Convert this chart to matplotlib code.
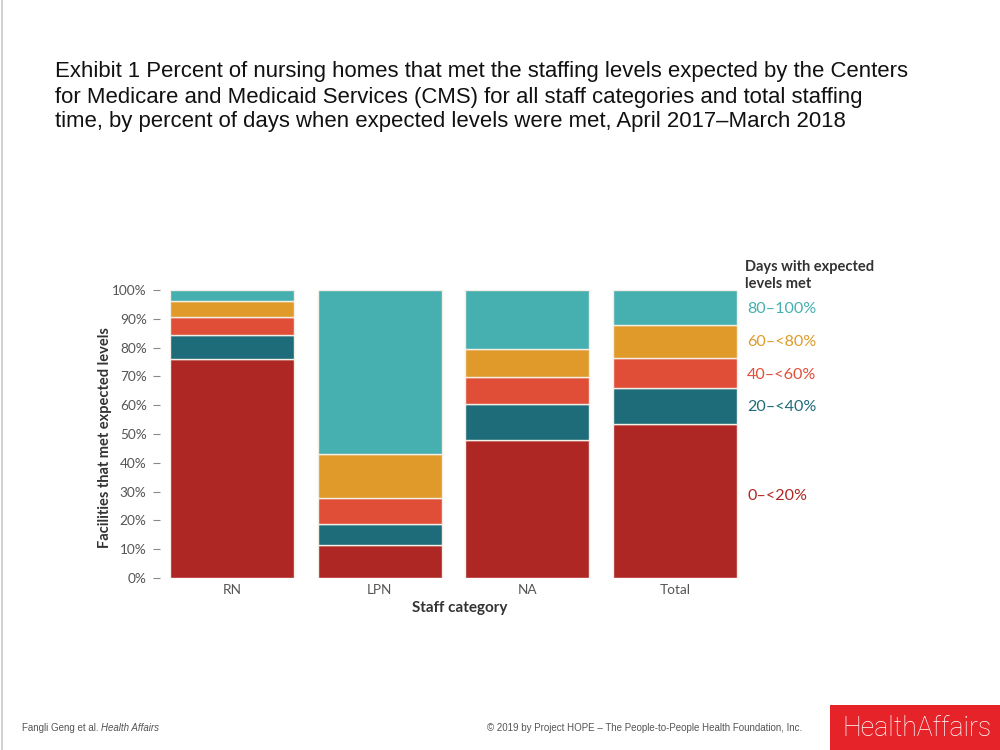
import matplotlib
matplotlib.use("Agg")
import matplotlib.pyplot as plt
from matplotlib.patches import Rectangle
import numpy as np

categories = ["RN", "LPN", "NA", "Total"]
series_labels = ["0–<20%", "20–<40%", "40–<60%", "60–<80%", "80–100%"]
v_0_20 = [75.9, 11.4, 47.9, 53.6]
v_20_40 = [8.5, 7.4, 12.6, 12.3]
v_40_60 = [6.3, 8.9, 9.2, 10.4]
v_60_80 = [5.5, 15.2, 9.8, 11.6]
v_80_100 = [3.8, 57.1, 20.5, 12.1]
yticks = [0, 10, 20, 30, 40, 50, 60, 70, 80, 90, 100]
ytick_labels = ["0%", "10%", "20%", "30%", "40%", "50%", "60%", "70%", "80%", "90%", "100%"]

colors = ["#AE2724", "#1E6C79", "#E14E38", "#E09A2A", "#46AFAF"]
series = [v_0_20, v_20_40, v_40_60, v_60_80, v_80_100]

W, H = 1000, 750
fig = plt.figure(figsize=(10, 7.5), dpi=100)
fig.patch.set_facecolor("white")

def fx(px):
    return px / W

def fy(py):
    return 1 - py / H

chart_font = ["Lato", "DejaVu Sans"]
title_font = ["Liberation Sans", "DejaVu Sans"]

# axes: bars RN 170-294, spacing 147.7 px, 0% at y=578, 100% at y=290
spacing = 147.7
c0 = 232
xl, xr = -0.42, 3.5
left_px = c0 + xl * spacing
right_px = c0 + xr * spacing
ax = fig.add_axes([fx(left_px), fy(578), (right_px - left_px) / W, (578 - 290) / H])
ax.set_xlim(xl, xr)
ax.set_ylim(0, 100)

x = np.arange(len(categories))
bottom = np.zeros(len(categories))
for vals, col, lab in zip(series, colors, series_labels):
    ax.bar(x, vals, width=0.84, bottom=bottom, color=col, edgecolor="#f4efe6",
           linewidth=1.0, label=lab)
    bottom += np.array(vals)

for s in ["top", "right", "bottom"]:
    ax.spines[s].set_visible(False)
ax.spines["left"].set_position(("outward", 7.5))
ax.spines["left"].set_color("none")

ax.set_yticks(yticks)
ax.set_yticklabels(ytick_labels, fontfamily=chart_font, fontsize=9.8, color="#555555")
ax.tick_params(axis="y", direction="out", length=5, width=0.8, color="#888888", pad=4.3)
ax.set_xticks(x)
ax.set_xticklabels(categories, fontfamily=chart_font, fontsize=9.8, color="#555555")
ax.tick_params(axis="x", length=0, pad=4)

ax.set_xlabel("Staff category", fontfamily=chart_font, fontsize=11, fontweight="bold",
              color="#333333", labelpad=4)
fig.text(fx(105), fy(438), "Facilities that met expected levels", rotation=90,
         ha="center", va="center", fontfamily=chart_font, fontsize=10.5,
         fontweight="bold", color="#333333")

# legend text
fig.text(fx(745), fy(267), "Days with expected", ha="left", va="center",
         fontfamily=chart_font, fontsize=10.5, fontweight="bold", color="#333333")
fig.text(fx(745), fy(284), "levels met", ha="left", va="center",
         fontfamily=chart_font, fontsize=10.5, fontweight="bold", color="#333333")
legend_y = {"80–100%": 309, "60–<80%": 342, "40–<60%": 375, "20–<40%": 407, "0–<20%": 496}
for lab, col in zip(series_labels, colors):
    fig.text(fx(747), fy(legend_y[lab]), lab, ha="left", va="center",
             fontfamily=chart_font, fontsize=11.6, color=col)

# title
title_lines = [
    "Exhibit 1 Percent of nursing homes that met the staffing levels expected by the Centers",
    "for Medicare and Medicaid Services (CMS) for all staff categories and total staffing",
    "time, by percent of days when expected levels were met, April 2017\u2013March 2018",
]
for line, py in zip(title_lines, [72, 97, 121]):
    fig.text(fx(55), fy(py), line, ha="left", va="center", fontfamily=title_font,
             fontsize=15.9, color="#111111")

# footer
t1 = fig.text(fx(22), fy(728), "Fangli Geng et al. ", ha="left", va="center",
              fontfamily=title_font, fontsize=7.0, color="#555555")
fig.canvas.draw()
bb = t1.get_window_extent()
fig.text(bb.x1 / W, fy(728), "Health Affairs", ha="left", va="center",
         fontfamily=title_font, fontsize=7.0, style="italic", color="#555555")
fig.text(fx(487), fy(728), "\u00a9 2019 by Project HOPE \u2013 The People-to-People Health Foundation, Inc.",
         ha="left", va="center", fontfamily=title_font, fontsize=7.0, color="#555555")

fig.patches.append(Rectangle((fx(830), 0), fx(170), 45 / H, transform=fig.transFigure,
                             facecolor="#E52329", edgecolor="none"))
fig.text(fx(916.5), fy(728), "HealthAffairs", ha="center", va="center",
         fontfamily=["Roboto", "DejaVu Sans"], fontweight="light", fontsize=19.2, color="white")

# slide left border
fig.lines.append(plt.Line2D([fx(1.5), fx(1.5)], [0, 1], transform=fig.transFigure,
                            color="#c8c8c8", linewidth=1.2))

fig.savefig("out.png", dpi=100, facecolor="white")
